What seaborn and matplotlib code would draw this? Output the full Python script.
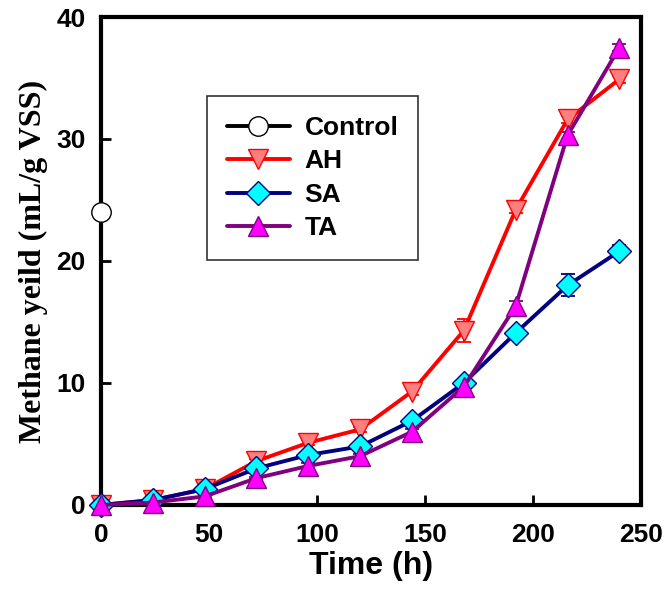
import pandas as pd
import matplotlib
matplotlib.use('Agg')
import matplotlib.pyplot as plt
import seaborn as sns

# time points (h)
time_h = [0, 24, 48, 72, 96, 120, 144, 168, 192, 216, 240]

# methane yield (mL/g VSS)
ah = [0.0, 0.4, 1.3, 3.6, 5.1, 6.2, 9.3, 14.3, 24.2, 31.6, 34.9]
sa = [0.0, 0.4, 1.3, 3.0, 4.1, 4.8, 6.9, 10.0, 14.1, 18.0, 20.8]
ta = [0.0, 0.2, 0.7, 2.2, 3.2, 4.0, 6.0, 9.7, 16.3, 30.3, 37.5]
ah_err = [0.1, 0.1, 0.2, 0.2, 0.2, 0.2, 0.3, 0.95, 0.3, 0.3, 0.3]
sa_err = [0.1, 0.1, 0.1, 0.2, 0.2, 0.2, 0.2, 0.3, 0.2, 0.9, 0.5]
ta_err = [0.1, 0.1, 0.1, 0.1, 0.2, 0.2, 0.2, 0.6, 0.4, 0.3, 0.3]
control_t = [0]
control = [24.0]

sns.set_style('ticks')
plt.rcParams['font.family'] = ['Liberation Sans', 'DejaVu Sans']
plt.rcParams['font.weight'] = 'bold'
for k in ['text.color', 'axes.labelcolor', 'xtick.color', 'ytick.color']:
    plt.rcParams[k] = 'black'

df = pd.concat([
    pd.DataFrame({'time': time_h, 'yield': ah, 'err': ah_err, 'group': 'AH'}),
    pd.DataFrame({'time': time_h, 'yield': sa, 'err': sa_err, 'group': 'SA'}),
    pd.DataFrame({'time': time_h, 'yield': ta, 'err': ta_err, 'group': 'TA'}),
])

styles = {
    'AH': dict(color='red', marker='v', mfc='#ff7f7f', mec='red'),
    'SA': dict(color='#000080', marker='D', mfc='cyan', mec='#000080'),
    'TA': dict(color='#800080', marker='^', mfc='magenta', mec='#800080'),
}
msize = {'AH': 15, 'SA': 12, 'TA': 15}

fig = plt.figure(figsize=(6.7, 5.99), dpi=100)
ax = fig.add_axes([0.1507, 0.157, 0.806, 0.8146])

for g in ['AH', 'SA', 'TA']:
    d = df[df['group'] == g]
    st = styles[g]
    ax.errorbar(d['time'], d['yield'], yerr=d['err'], fmt='none',
                ecolor=st['color'], elinewidth=1.3, capsize=5, capthick=1.3,
                clip_on=False, zorder=2)
    sns.lineplot(x=d['time'], y=d['yield'], color=st['color'], lw=2.8,
                 marker=st['marker'], markersize=msize[g], markerfacecolor=st['mfc'],
                 markeredgecolor=st['mec'], markeredgewidth=1.0,
                 ax=ax, clip_on=False, zorder=3, label=g)

sns.lineplot(x=control_t, y=control, color='black', lw=2.8, marker='o', markersize=14,
             markerfacecolor='white', markeredgecolor='black', markeredgewidth=1.0,
             ax=ax, clip_on=False, zorder=4, label='Control')

ax.set_xlim(0, 250)
ax.set_ylim(0, 40)
ax.set_xticks([0, 50, 100, 150, 200, 250])
ax.set_yticks([0, 10, 20, 30, 40])
ax.tick_params(direction='in', length=7, width=2, labelsize=19)
ax.tick_params(axis='x', pad=13)
ax.tick_params(axis='y', pad=11)
for lab in ax.get_xticklabels() + ax.get_yticklabels():
    lab.set_fontweight('bold')
for s in ax.spines.values():
    s.set_linewidth(3)
    s.set_color('black')

ax.set_xlabel('Time (h)', fontsize=23, fontweight='bold', labelpad=3)
ax.set_ylabel('Methane yeild (mL/g VSS)', fontsize=23, fontweight='bold',
              family=['Liberation Serif', 'DejaVu Serif'], labelpad=6)

h, l = ax.get_legend_handles_labels()
order = [l.index(n) for n in ['Control', 'AH', 'SA', 'TA']]
leg = ax.legend([h[i] for i in order], [l[i] for i in order],
                loc='upper left', bbox_to_anchor=(0.196, 0.838),
                fontsize=19, frameon=True, fancybox=False, edgecolor='black',
                handlelength=2.4, labelspacing=0.36, borderpad=0.75,
                handletextpad=0.55, borderaxespad=0)
leg.get_frame().set_linewidth(1.2)
for t in leg.get_texts():
    t.set_fontweight('bold')

fig.savefig('out.png', dpi=100)
